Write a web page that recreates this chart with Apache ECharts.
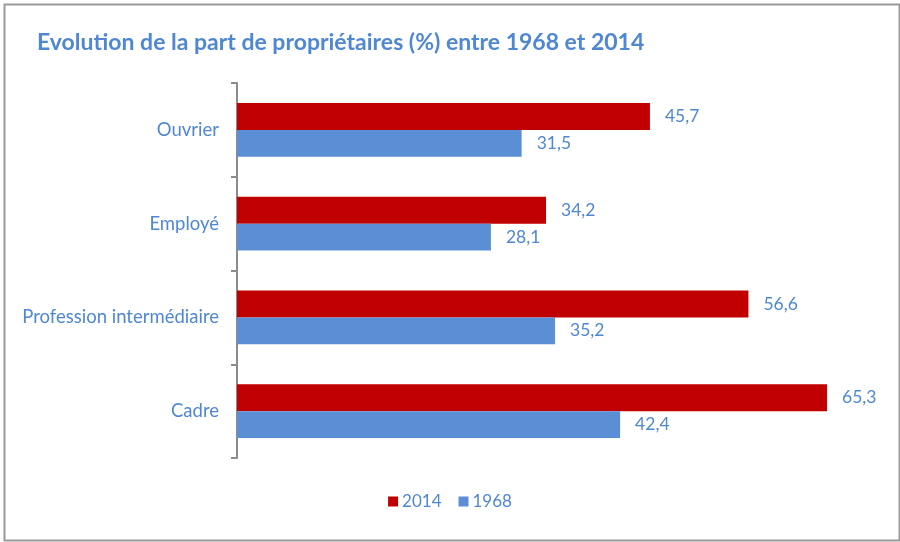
<!DOCTYPE html>
<html>
<head>
<meta charset="utf-8">
<script src="https://cdn.jsdelivr.net/npm/echarts@6/dist/echarts.min.js"></script>
<style>html,body{margin:0;padding:0;background:#fff;}#c{width:900px;height:542px;}</style>
</head>
<body>
<div id="c"></div>
<script>
const categories = ['Ouvrier', 'Employé', 'Profession intermédiaire', 'Cadre'];
const values2014 = [45.7, 34.2, 56.6, 65.3];
const values1968 = [31.5, 28.1, 35.2, 42.4];
const seriesNames = ['2014', '1968'];

const RED = '#c00000', BLUE = '#5a8fd6', TXT = '#4f87d3';
const FONT = 'Lato, "Open Sans", sans-serif';
const fmt = p => String(p.value).replace('.', ',');
const chart = echarts.init(document.getElementById('c'), null, {renderer: 'canvas'});
chart.setOption({
  animation: false,
  backgroundColor: '#fff',
  title: {
    text: 'Evolution de la part de propriétaires (%) entre 1968 et 2014',
    left: 32, top: 26,
    textStyle: {color: TXT, fontSize: 23, fontWeight: 'bold', fontFamily: FONT}
  },
  graphic: [{
    type: 'rect', left: 2, top: 2, silent: true,
    shape: {width: 895, height: 536},
    style: {fill: 'none', stroke: '#9a9a9a', lineWidth: 2}
  }],
  legend: {
    data: seriesNames, bottom: 27, left: 'center',
    icon: 'rect', itemWidth: 10, itemHeight: 10, itemGap: 17,
    textStyle: {color: TXT, fontSize: 17, fontFamily: FONT, padding: [0, 0, 0, -1]}
  },
  grid: {left: 237, top: 83, width: 632.5, height: 375, containLabel: false},
  xAxis: {type: 'value', min: 0, max: 70, show: false},
  yAxis: {
    type: 'category', data: categories, inverse: true,
    axisLine: {show: true, lineStyle: {color: '#8c8c8c', width: 2}},
    axisTick: {show: true, length: 6, lineStyle: {color: '#8c8c8c', width: 2}},
    axisLabel: {color: TXT, fontSize: 18.5, fontFamily: FONT, margin: 18}
  },
  series: [
    {name: seriesNames[0], type: 'bar', data: values2014, barGap: '0%', barCategoryGap: '42.5%',
     itemStyle: {color: RED},
     label: {show: true, position: 'right', distance: 15, formatter: fmt, color: TXT, fontSize: 17.5, fontFamily: FONT}},
    {name: seriesNames[1], type: 'bar', data: values1968, barGap: '0%', barCategoryGap: '42.5%',
     itemStyle: {color: BLUE},
     label: {show: true, position: 'right', distance: 15, formatter: fmt, color: TXT, fontSize: 17.5, fontFamily: FONT}}
  ]
});
</script>
</body>
</html>
